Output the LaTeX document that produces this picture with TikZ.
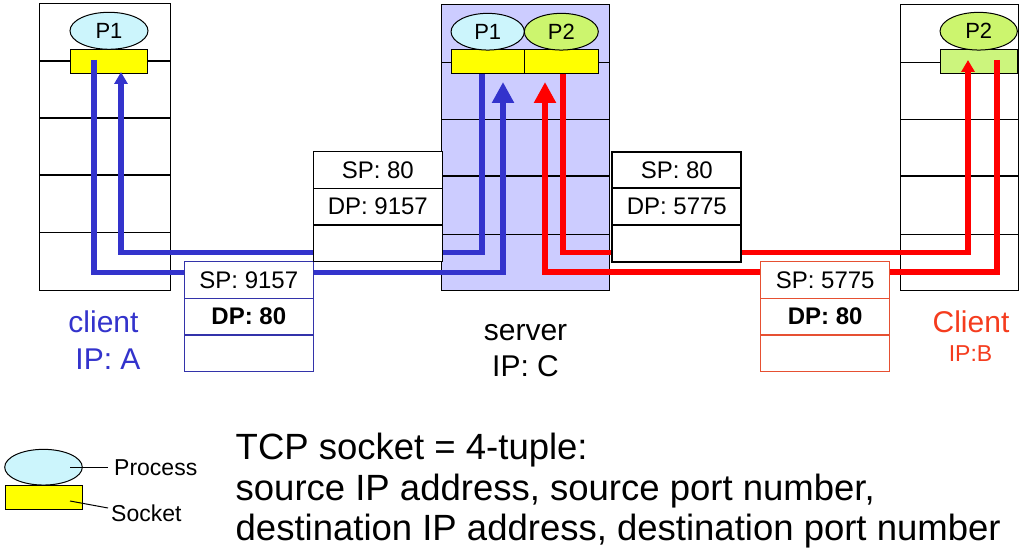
\documentclass[tikz,border=0pt]{standalone}
\usepackage{fontspec}
\setmainfont{Liberation Sans}
\usetikzlibrary{shapes.geometric,arrows.meta}
\definecolor{flowblue}{RGB}{51,51,204}
\definecolor{flowred}{RGB}{255,0,0}
\definecolor{srvfill}{RGB}{204,204,255}
\definecolor{procA}{RGB}{204,245,252}
\definecolor{procB}{RGB}{204,245,110}
\definecolor{sockB}{RGB}{204,245,125}
\definecolor{sockY}{RGB}{255,255,0}
\definecolor{pktblue}{RGB}{51,51,170}
\definecolor{pktred}{RGB}{230,80,50}
\definecolor{lblred}{RGB}{245,60,30}
\newcommand\fsz[1]{\fontsize{#1}{#1}\selectfont}
\begin{document}
\begin{tikzpicture}[x=1pt,y=-1pt,
  hostbox/.style={draw=black, line width=1pt, fill=white, anchor=north west, inner sep=0, outer sep=0},
  divider/.style={draw=black, line width=1.2pt},
  sockbox/.style={draw=black, line width=1pt, fill=sockY, anchor=north west, inner sep=0, outer sep=0, minimum height=24pt},
  procell/.style={ellipse, draw=black, line width=1pt, inner sep=0, outer sep=0, font=\fsz{22}},
  flowline/.style={line width=5.5pt, draw=#1, line join=miter},
  bigtip/.style={-{Triangle[length=21pt,width=21pt]}},
  smalltip/.style={-{Triangle[length=12pt,width=13pt]}},
  pktrow/.style={draw=#1, line width=1.5pt, fill=white, anchor=north west, inner sep=0, outer sep=0,
     minimum width=129pt, minimum height=36.6pt, font=\fsz{24}},
  lbl/.style={anchor=base, inner sep=0, font=\fsz{30}},
  tuple/.style={anchor=base west, inner sep=0, font=\fsz{36.5}},
  legtxt/.style={anchor=base west, inner sep=0, font=\fsz{23}}
]
\useasboundingbox (0,0) rectangle (1028,553);
\fill[white] (0,0) rectangle (1028,553);

% hosts
\node[hostbox, minimum width=131.5pt, minimum height=287pt] (hostA) at (39,3.3) {};
\node[hostbox, fill=srvfill, minimum width=167.6pt, minimum height=286.7pt] (server) at (441.7,4.3) {};
\node[hostbox, minimum width=118pt, minimum height=286.7pt] (hostB) at (900.7,4.3) {};

\foreach \yy in {61,118,175,232.7}{
  \draw[divider] (hostA.west |- 0,\yy) -- (hostA.east |- 0,\yy);}
\foreach \yy in {62.3,119.3,176,234.3}{
  \draw[divider] (server.west |- 0,\yy) -- (server.east |- 0,\yy);
  \draw[divider] (hostB.west |- 0,\yy) -- (hostB.east |- 0,\yy);}

% sockets
\node[sockbox, minimum width=77.4pt] (sockA) at (70.3,49.3) {};
\node[sockbox, minimum width=73.3pt] (sockC1) at (451,50) {};
\node[sockbox, minimum width=74pt] (sockC2) at (524.3,50) {};
\node[sockbox, fill=sockB, minimum width=77pt] (sockB) at (940.3,50) {};

% processes
\node[procell, fill=procA, minimum width=78pt, minimum height=37pt] (pA) at (109,30.8) {P1};
\node[procell, fill=procA, minimum width=73.3pt, minimum height=36.7pt] (pC1) at (487.7,31.7) {P1};
\node[procell, fill=procB, minimum width=74pt, minimum height=36.7pt] (pC2) at (561.3,31.7) {P2};
\node[procell, fill=procB, minimum width=77.3pt, minimum height=37.7pt] (pB) at (978.7,31.2) {P2};

% flows
\coordinate (a1s) at (94,60);   \coordinate (a1m) at (94,272.5);  \coordinate (c1t) at (503,82);
\coordinate (c1s) at (482,74);  \coordinate (c1m) at (482,252.3); \coordinate (a1t) at (121,72);
\coordinate (c2s) at (563,74);  \coordinate (c2m) at (563,252.3); \coordinate (b1t) at (968,60);
\coordinate (b1s) at (997,60);  \coordinate (b1m) at (997,272);   \coordinate (c2t) at (545,82);
\draw[flowline=flowblue, bigtip] (a1s) -- (a1m) -| (c1t);
\draw[flowline=flowblue, smalltip] (c1s) -- (c1m) -| (a1t);
\draw[flowline=flowred, smalltip] (c2s) -- (c2m) -| (b1t);
\draw[flowline=flowred, bigtip] (b1s) -- (b1m) -| (c2t);

% packets
\node[pktrow=pktblue] (pa1) at (184.3,261.7) {SP: 9157};
\node[pktrow=pktblue, font=\fsz{24}\bfseries] (pa2) at (184.3,298.3) {DP: 80};
\node[pktrow=pktblue] (pa3) at (184.3,335) {};

\node[pktrow=black] (pc1) at (313.3,151.7) {SP: 80};
\node[pktrow=black] (pc2) at (313.3,188.3) {DP: 9157};
\node[pktrow=black] (pc3) at (313.3,225) {};

\node[pktrow=black, line width=2pt] (pd1) at (612.3,151.7) {SP: 80};
\node[pktrow=black, line width=2pt] (pd2) at (612.3,188.3) {DP: 5775};
\node[pktrow=black, line width=2pt] (pd3) at (612.3,225) {};

\node[pktrow=pktred] (pb1) at (760.7,261.7) {SP: 5775};
\node[pktrow=pktred, font=\fsz{24}\bfseries] (pb2) at (760.7,298.3) {DP: 80};
\node[pktrow=pktred] (pb3) at (760.7,335) {};

% host labels
\node[lbl, text=flowblue] (clA) at (103.5,332) {client};
\node[lbl, text=flowblue] (ipA) at (108,369) {IP: A};
\node[lbl] (srv) at (525.5,340) {server};
\node[lbl] (ipC) at (525.5,376.5) {IP: C};
\node[lbl, text=lblred] (clB) at (971,333) {Client};
\node[lbl, text=lblred, font=\fsz{23}] (ipB) at (970.5,361.5) {IP:B};

% legend
\node[procell, fill=procA, minimum width=77.6pt, minimum height=35.7pt] (legP) at (43.5,467.2) {};
\node[sockbox, minimum width=77pt, minimum height=23.6pt] (legS) at (5.3,485.7) {};
\node[legtxt] (legPt) at (114,475) {Process};
\node[legtxt] (legSt) at (111,521.5) {Socket};
\coordinate (lp1) at (70,467); \coordinate (lp2) at (108,467);
\coordinate (ls1) at (70,501); \coordinate (ls2) at (108,508);
\draw[line width=1pt] (lp1) -- (lp2);
\draw[line width=1pt] (ls1) -- (ls2);

% tuple text
\node[tuple] (t1) at (235.5,459.5) {TCP socket = 4-tuple:};
\node[tuple] (t2) at (235.5,500) {source IP address, source port number,};
\node[tuple] (t3) at (235.5,540) {destination IP address, destination port number};
\end{tikzpicture}
\end{document}
